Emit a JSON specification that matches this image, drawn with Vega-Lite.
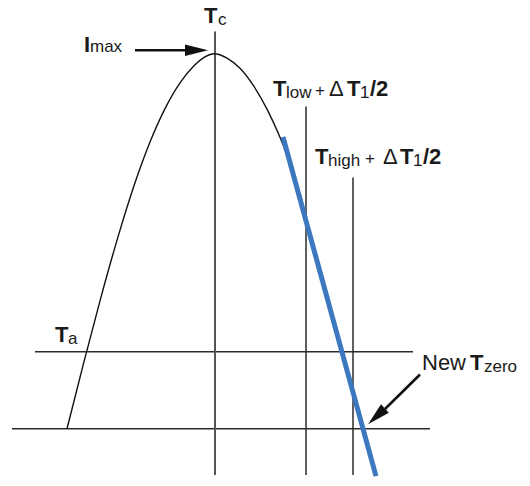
{
  "$schema": "https://vega.github.io/schema/vega-lite/v6.json",
  "width": 530,
  "height": 486,
  "padding": 0,
  "autosize": {"type": "fit", "contains": "padding"},
  "background": "white",
  "config": {"view": {"stroke": null}, "axis": {"disable": true}},
  "datasets": {
    "guides": [
      {"name": "Tc", "t": 215, "i": 454, "t2": 215, "i2": 4},
      {"name": "Tlow", "t": 306, "i": 378, "t2": 306, "i2": 4},
      {"name": "Thigh", "t": 353, "i": 306, "t2": 353, "i2": 4},
      {"name": "Ta", "t": 35, "i": 129, "t2": 413, "i2": 129},
      {"name": "zero", "t": 12, "i": 51, "t2": 430, "i2": 51}
    ],
    "curve": [
      {"t": 67, "i": 51}, {"t": 84, "i": 119.1}, {"t": 101, "i": 184.6}, {"t": 118, "i": 245.7},
      {"t": 134, "i": 297.5}, {"t": 150, "i": 341.9}, {"t": 165, "i": 375.8}, {"t": 180, "i": 402},
      {"t": 194, "i": 419.3}, {"t": 205, "i": 428.3}, {"t": 214, "i": 431.5}, {"t": 227, "i": 427.1},
      {"t": 240, "i": 416.7}, {"t": 253, "i": 399.8}, {"t": 267, "i": 375.3}, {"t": 280, "i": 346.7},
      {"t": 288, "i": 325.9}, {"t": 297, "i": 298.9}, {"t": 302, "i": 282.4}
    ],
    "tangent": [{"t": 283, "i": 347}, {"t": 376, "i": 3}],
    "shafts": [
      {"name": "Imax", "t": 135, "i": 435, "t2": 190, "i2": 435},
      {"name": "Tzero", "t": 420, "i": 106, "t2": 385, "i2": 71}
    ],
    "heads": [
      {"name": "Imax", "t": 196.5, "i": 435, "heading": 0},
      {"name": "Tzero", "t": 376.5, "i": 63.5, "heading": 137}
    ],
    "labels": [
      {"text": "I", "t": 84, "i": 433, "role": "main"},
      {"text": "max", "t": 90, "i": 433, "role": "sub"},
      {"text": "T", "t": 204, "i": 463, "role": "main"},
      {"text": "c", "t": 218, "i": 461, "role": "sub"},
      {"text": "T", "t": 273, "i": 389, "role": "main"},
      {"text": "low", "t": 286, "i": 387, "role": "sub"},
      {"text": "+", "t": 315, "i": 389, "role": "sub"},
      {"text": "Δ", "t": 329, "i": 389, "role": "word"},
      {"text": "T", "t": 347, "i": 389, "role": "main"},
      {"text": "1", "t": 360, "i": 387, "role": "sub"},
      {"text": "/2", "t": 370, "i": 389, "role": "main"},
      {"text": "T", "t": 315, "i": 320, "role": "main"},
      {"text": "high", "t": 328, "i": 318, "role": "sub"},
      {"text": "+", "t": 365, "i": 320, "role": "sub"},
      {"text": "Δ", "t": 383, "i": 320, "role": "word"},
      {"text": "T", "t": 400, "i": 320, "role": "main"},
      {"text": "1", "t": 413, "i": 318, "role": "sub"},
      {"text": "/2", "t": 423, "i": 320, "role": "main"},
      {"text": "T", "t": 55, "i": 139, "role": "main"},
      {"text": "a", "t": 68, "i": 137, "role": "sub"},
      {"text": "New", "t": 422, "i": 111, "role": "word"},
      {"text": "T", "t": 470, "i": 111, "role": "main"},
      {"text": "zero", "t": 484, "i": 109, "role": "sub"}
    ]
  },
  "encoding": {
    "x": {"field": "t", "type": "quantitative", "scale": {"domain": [0, 530], "nice": false, "zero": false}},
    "y": {"field": "i", "type": "quantitative", "scale": {"domain": [0, 486], "nice": false, "zero": false}}
  },
  "layer": [
    {
      "data": {"name": "guides"},
      "transform": [{"filter": "datum.name !== 'Tc'"}],
      "mark": {"type": "rule", "stroke": "#2b2b2b", "strokeWidth": 1.5},
      "encoding": {"x2": {"field": "t2"}, "y2": {"field": "i2"}}
    },
    {
      "data": {"name": "guides"},
      "transform": [{"filter": "datum.name === 'Tc'"}],
      "mark": {"type": "rule", "stroke": "#555555", "strokeWidth": 2},
      "encoding": {"x2": {"field": "t2"}, "y2": {"field": "i2"}}
    },
    {
      "data": {"name": "curve"},
      "mark": {"type": "line", "interpolate": "monotone", "stroke": "#111111", "strokeWidth": 1.4}
    },
    {
      "data": {"name": "tangent"},
      "mark": {"type": "line", "stroke": "#3b78c0", "strokeWidth": 5, "strokeCap": "butt"}
    },
    {
      "data": {"name": "shafts"},
      "mark": {"type": "rule", "stroke": "#111111", "strokeWidth": 2.6},
      "encoding": {"x2": {"field": "t2"}, "y2": {"field": "i2"}}
    },
    {
      "data": {"name": "heads"},
      "mark": {"type": "point", "shape": "M-1,-0.5L1,0L-1,0.5Z", "size": 529, "filled": true, "fill": "#111111", "opacity": 1, "strokeWidth": 0},
      "encoding": {"angle": {"field": "heading", "type": "quantitative", "scale": null}}
    },
    {
      "data": {"name": "labels"},
      "transform": [{"filter": "datum.role === 'main'"}],
      "mark": {"type": "text", "align": "left", "baseline": "alphabetic", "font": "Liberation Sans", "fontSize": 22, "fontWeight": "bold", "fill": "#1a1a1a"},
      "encoding": {"text": {"field": "text"}}
    },
    {
      "data": {"name": "labels"},
      "transform": [{"filter": "datum.role === 'word'"}],
      "mark": {"type": "text", "align": "left", "baseline": "alphabetic", "font": "Liberation Sans", "fontSize": 22, "fill": "#1a1a1a"},
      "encoding": {"text": {"field": "text"}}
    },
    {
      "data": {"name": "labels"},
      "transform": [{"filter": "datum.role === 'sub'"}],
      "mark": {"type": "text", "align": "left", "baseline": "alphabetic", "font": "Liberation Sans", "fontSize": 17, "fill": "#1a1a1a"},
      "encoding": {"text": {"field": "text"}}
    }
  ]
}
